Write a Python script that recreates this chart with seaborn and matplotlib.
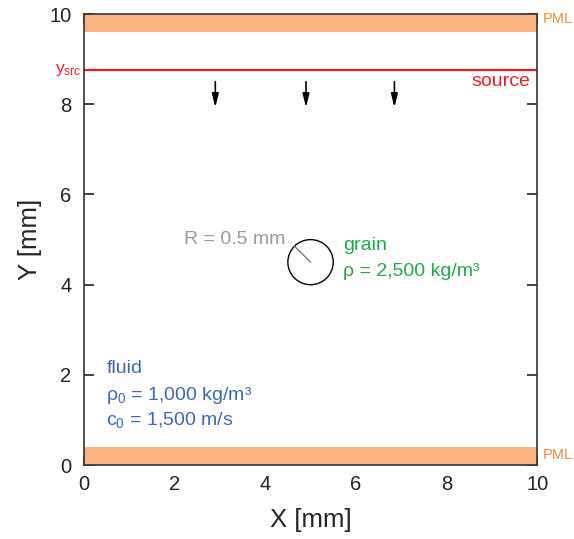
import matplotlib
matplotlib.use("Agg")
import matplotlib.pyplot as plt
import matplotlib.patches as mpatches
import numpy as np
import seaborn as sns

sns.set_style("ticks")
plt.rcParams["font.family"] = ["Liberation Sans", "DejaVu Sans"]
plt.rcParams["mathtext.fontset"] = "custom"
plt.rcParams["mathtext.rm"] = "Liberation Sans"
plt.rcParams["mathtext.it"] = "Liberation Sans"

# geometrie (mm)
x_lim = [0, 10]
y_lim = [0, 10]
ticks = [0, 2, 4, 6, 8, 10]
pml_top = [9.6, 10.0]
pml_bottom = [0.0, 0.4]
y_src = 8.75
arrow_x = [2.9, 4.9, 6.85]
arrow_y = [8.5, 7.93]
grain_center = [5.0, 4.5]
grain_radius = 0.5

c_pml = "#f9b381"
c_pml_txt = "#f28a3c"
c_red = "#e8202a"
c_green = "#22a84a"
c_blue = "#3c68b4"
c_gray = "#9a9a9a"

fig = plt.figure(figsize=(5.74, 5.39), dpi=100)
ax = fig.add_axes([0.146, 0.137, 0.79, 0.837])

# PML
ax.axhspan(pml_top[0], pml_top[1], color=c_pml, lw=0, zorder=1)
ax.axhspan(pml_bottom[0], pml_bottom[1], color=c_pml, lw=0, zorder=1)

# zrodlo
sns.lineplot(x=x_lim, y=[y_src, y_src], color=c_red, lw=1.6, ax=ax, zorder=2)

# strzalki
for xa in arrow_x:
    ax.annotate("", xy=(xa, arrow_y[1]), xytext=(xa, arrow_y[0]),
                arrowprops=dict(arrowstyle="-|>,head_width=0.2,head_length=0.8",
                                color="black", lw=1.2, shrinkA=0, shrinkB=0))

# ziarno
ax.add_patch(mpatches.Circle(grain_center, grain_radius, fill=False,
                             ec="black", lw=1.0, zorder=3))
ang = np.deg2rad(135)
sns.lineplot(x=[grain_center[0], grain_center[0] + grain_radius * np.cos(ang)],
             y=[grain_center[1], grain_center[1] + grain_radius * np.sin(ang)],
             color="#707070", lw=0.9, ax=ax, zorder=3)

fs = 14
ax.text(4.45, 5.0, "R = 0.5 mm", color=c_gray, fontsize=fs, ha="right", va="center")
ax.text(5.72, 4.86, "grain", color=c_green, fontsize=fs, ha="left", va="center")
ax.text(5.72, 4.3, "ρ = 2,500 kg/m³", color=c_green, fontsize=fs, ha="left", va="center")
ax.text(0.5, 2.15, "fluid", color=c_blue, fontsize=fs, ha="left", va="center")
ax.text(0.5, 1.55, "ρ$_0$ = 1,000 kg/m³", color=c_blue, fontsize=fs, ha="left", va="center")
ax.text(0.5, 1.0, "c$_0$ = 1,500 m/s", color=c_blue, fontsize=fs, ha="left", va="center")
ax.text(9.85, 8.5, "source", color=c_red, fontsize=fs, ha="right", va="center")
ax.text(-0.05, y_src, "y$_{\\rm src}$", color=c_red, fontsize=12.5, ha="right", va="center")
ax.text(10.12, 9.9, "PML", color=c_pml_txt, fontsize=10.5, ha="left", va="center")
ax.text(10.12, 0.22, "PML", color=c_pml_txt, fontsize=10.5, ha="left", va="center")

ax.set_xlim(x_lim)
ax.set_ylim(y_lim)
ax.set_xticks(ticks)
ax.set_yticks(ticks)
ax.tick_params(direction="in", length=7, width=1.2, labelsize=14.5,
               top=True, right=True, colors="#222222")
ax.tick_params(axis="y", pad=9)
ax.tick_params(axis="x", pad=7)
for s in ax.spines.values():
    s.set_color("#333333")
    s.set_linewidth(1.2)
ax.set_xlabel("X [mm]", fontsize=18.5, labelpad=10)
ax.set_ylabel("Y [mm]", fontsize=18.5, labelpad=5)

fig.savefig("out.png", dpi=100)
